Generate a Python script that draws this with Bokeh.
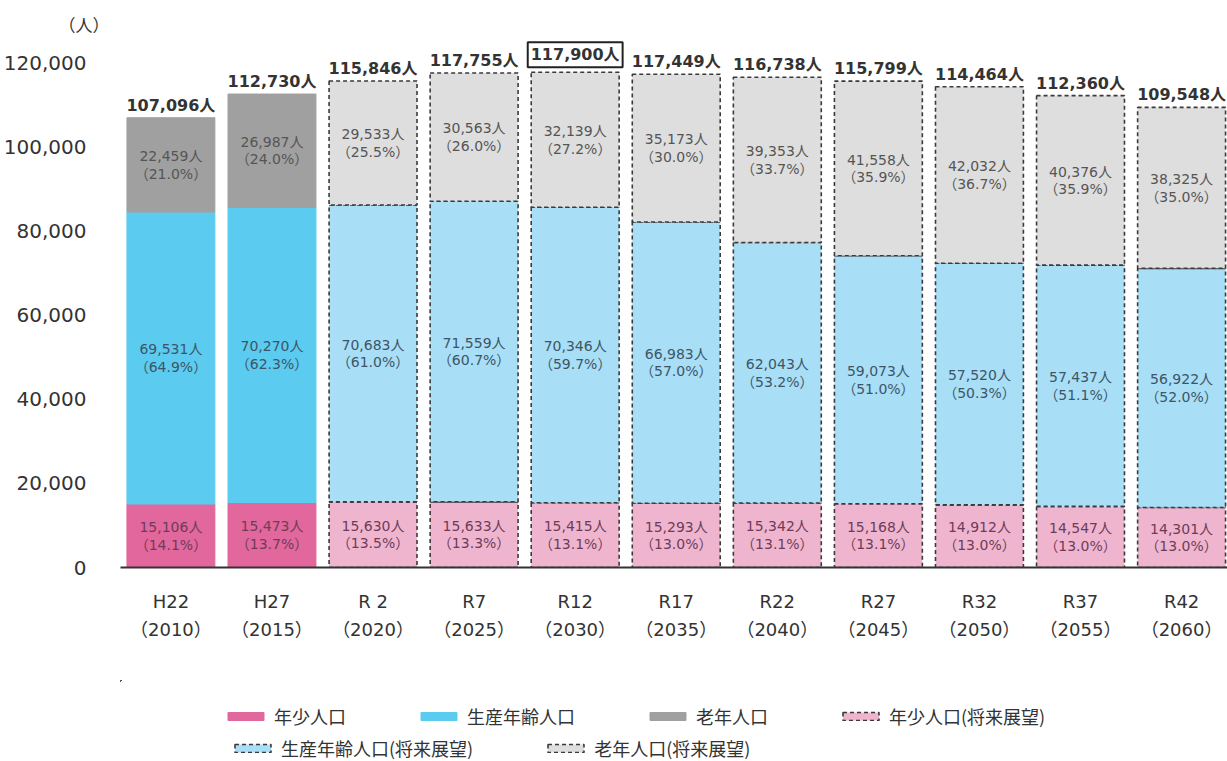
from bokeh.plotting import figure
from bokeh.layouts import column
from bokeh.models import (ColumnDataSource, FixedTicker, NumeralTickFormatter, Range1d,
                          Legend, LegendItem, CDSView, IndexFilter)
from bokeh.core.properties import value
from bokeh.embed import file_html
from bokeh.resources import INLINE

# ---------------- data ----------------
era_labels = ["H22", "H27", "R 2", "R7", "R12", "R17", "R22", "R27", "R32", "R37", "R42"]
years = [2010, 2015, 2020, 2025, 2030, 2035, 2040, 2045, 2050, 2055, 2060]
young = [15106, 15473, 15630, 15633, 15415, 15293, 15342, 15168, 14912, 14547, 14301]
young_pct = [14.1, 13.7, 13.5, 13.3, 13.1, 13.0, 13.1, 13.1, 13.0, 13.0, 13.0]
working = [69531, 70270, 70683, 71559, 70346, 66983, 62043, 59073, 57520, 57437, 56922]
working_pct = [64.9, 62.3, 61.0, 60.7, 59.7, 57.0, 53.2, 51.0, 50.3, 51.1, 52.0]
elderly = [22459, 26987, 29533, 30563, 32139, 35173, 39353, 41558, 42032, 40376, 38325]
elderly_pct = [21.0, 24.0, 25.5, 26.0, 27.2, 30.0, 33.7, 35.9, 36.7, 35.9, 35.0]
totals = [107096, 112730, 115846, 117755, 117900, 117449, 116738, 115799, 114464, 112360, 109548]
n_actual = 2          # H22, H27 are actual values; the rest are projections
boxed_index = 4       # R12 total is framed
y_ticks = [0, 20000, 40000, 60000, 80000, 100000, 120000]
legend_row1 = ["年少人口", "生産年齢人口", "老年人口", "年少人口(将来展望)"]
legend_row2 = ["生産年齢人口(将来展望)", "老年人口(将来展望)"]

NUM_FONT = "DejaVu Sans, Noto Sans CJK JP"
JP_FONT = "Noto Sans CJK JP"

x = list(range(len(years)))
y0 = young
y1 = [a + b for a, b in zip(young, working)]
y2 = [a + b + c for a, b, c in zip(young, working, elderly)]


def lab(v, p):
    return f"{v:,}人\n（{p:.1f}%）"


src = ColumnDataSource(dict(
    x=x, y0=[0] * len(x), y1=y0, y2=y1, y3=y2,
    m_young=[v / 2 for v in y0],
    m_work=[(a + b) / 2 for a, b in zip(y0, y1)],
    m_old=[(a + b) / 2 for a, b in zip(y1, y2)],
    l_young=[lab(v, p) for v, p in zip(young, young_pct)],
    l_work=[lab(v, p) for v, p in zip(working, working_pct)],
    l_old=[lab(v, p) for v, p in zip(elderly, elderly_pct)],
    total=totals,
    l_total=[f"{t:,}人" for t in totals],
))

act_view = CDSView(filter=IndexFilter(list(range(n_actual))))
fut_view = CDSView(filter=IndexFilter(list(range(n_actual, len(x)))))
plain_tot = CDSView(filter=IndexFilter([i for i in range(len(x)) if i != boxed_index]))
box_tot = CDSView(filter=IndexFilter([boxed_index]))

# ---------------- main figure ----------------
PX = 101.25
FIG_W = 1227
FRAME_L = 118
p = figure(width=FIG_W, height=680, output_backend="svg", toolbar_location=None,
           x_range=Range1d(-(168.5 - FRAME_L) / PX, (FIG_W - 168.5) / PX),
           y_range=Range1d(0, 125476),
           min_border_left=FRAME_L, min_border_right=0, min_border_top=40, min_border_bottom=113)
p.outline_line_color = None
p.grid.grid_line_color = None

W = 0.87
colors_act = ["#e2679c", "#5ccbf0", "#a0a0a0"]
colors_fut = ["#efb5cf", "#a8def6", "#dedede"]
DASH = dict(line_color="#3a3a3a", line_width=1.6, line_dash="4 3")
bands = [("y0", "y1"), ("y1", "y2"), ("y2", "y3")]

for (b, t), ca, cf in zip(bands, colors_act, colors_fut):
    p.vbar(x="x", bottom=b, top=t, width=W, source=src, view=act_view,
           fill_color=ca, line_color=ca, line_width=1)
    p.vbar(x="x", bottom=b, top=t, width=W, source=src, view=fut_view,
           fill_color=cf, **DASH)

# inner segment labels
for ycol, tcol, color in [("m_young", "l_young", "#6e3c58"),
                          ("m_work", "l_work", "#3d5566"),
                          ("m_old", "l_old", "#555555")]:
    p.text(x="x", y=ycol, text=tcol, source=src, text_align="center",
           text_baseline="middle", text_font=value(NUM_FONT), text_font_size="14px",
           text_color=color, text_line_height=1.1)

# totals
p.text(x="x", y="total", text="l_total", source=src, view=plain_tot,
       text_align="center", text_baseline="bottom", y_offset=-3,
       text_font=value(NUM_FONT), text_font_size="16px", text_font_style="bold",
       text_color="#333333")
p.text(x="x", y="total", text="l_total", source=src, view=box_tot,
       text_align="center", text_baseline="bottom", y_offset=-5,
       text_font=value(NUM_FONT), text_font_size="16px", text_font_style="bold",
       text_color="#333333", border_line_color="#222222", border_line_width=2,
       padding=3, background_fill_color="white")

# axes
yax = p.yaxis[0]
yax.ticker = FixedTicker(ticks=y_ticks)
yax.formatter = NumeralTickFormatter(format="0,0")
yax.axis_line_color = None
yax.major_tick_line_color = None
yax.minor_tick_line_color = None
yax.major_label_text_font = NUM_FONT
yax.major_label_text_font_size = "20px"
yax.major_label_text_color = "#333333"
yax.major_label_standoff = 28

xax = p.xaxis[0]
xax.ticker = FixedTicker(ticks=x)
xax.major_label_overrides = {i: f"{e}\n（{y}）" for i, e, y in zip(x, era_labels, years)}
xax.axis_line_color = "#333333"
xax.axis_line_width = 2
xax.major_tick_line_color = None
xax.minor_tick_line_color = None
xax.major_label_text_font = NUM_FONT
xax.major_label_text_font_size = "18px"
xax.major_label_text_color = "#333333"
xax.major_label_text_line_height = 1.37
xax.major_label_standoff = 17

# unit title
p.title.text = "（人）"
p.title.align = "left"
p.title.offset = -62
p.title.text_font = JP_FONT
p.title.text_font_size = "17px"
p.title.text_font_style = "normal"
p.title.text_color = "#333333"
p.title.standoff = 8

# ---------------- legend strip ----------------
LEG_H = 81
q = figure(width=FIG_W, height=LEG_H, output_backend="svg", toolbar_location=None,
           x_range=Range1d(len(x) + 2, 2 * len(x) + 2), y_range=Range1d(-400000, -200000),
           x_axis_type=None, y_axis_type=None,
           min_border_left=0, min_border_right=0, min_border_top=0, min_border_bottom=0)
q.outline_line_color = None
q.grid.grid_line_color = None

# legend swatches reuse the series (placed outside this strip's visible ranges)
swatches = []
for (b, t), ca in zip(bands, colors_act):
    swatches.append(q.vbar(x="x", bottom=b, top=t, width=W, source=src,
                           fill_color=ca, line_color=ca))
fut_sw = []
for (b, t), cf in zip(bands, colors_fut):
    fut_sw.append(q.vbar(x="x", bottom=b, top=t, width=W, source=src,
                         fill_color=cf, **DASH))

leg_common = dict(orientation="horizontal", glyph_width=45, glyph_height=10,
                  label_standoff=6, spacing=70, label_height=20, margin=0,
                  border_line_color=None, background_fill_alpha=0,
                  label_text_font=JP_FONT, label_text_font_size="18px",
                  label_text_color="#333333")
row1_r = swatches + [fut_sw[0]]
row2_r = fut_sw[1:]
leg1 = Legend(items=[LegendItem(label=l, renderers=[r], index=0) for l, r in zip(legend_row1, row1_r)],
              location=(228 - FRAME_L - 7, 32), padding=7, **leg_common)
leg2 = Legend(items=[LegendItem(label=l, renderers=[r], index=0) for l, r in zip(legend_row2, row2_r)],
              location=(228 - FRAME_L, 0), padding=0, **leg_common)
q.add_layout(leg1)
q.add_layout(leg2)

layout = column(p, q, spacing=0)
open("out.html", "w").write(file_html(layout, INLINE))
